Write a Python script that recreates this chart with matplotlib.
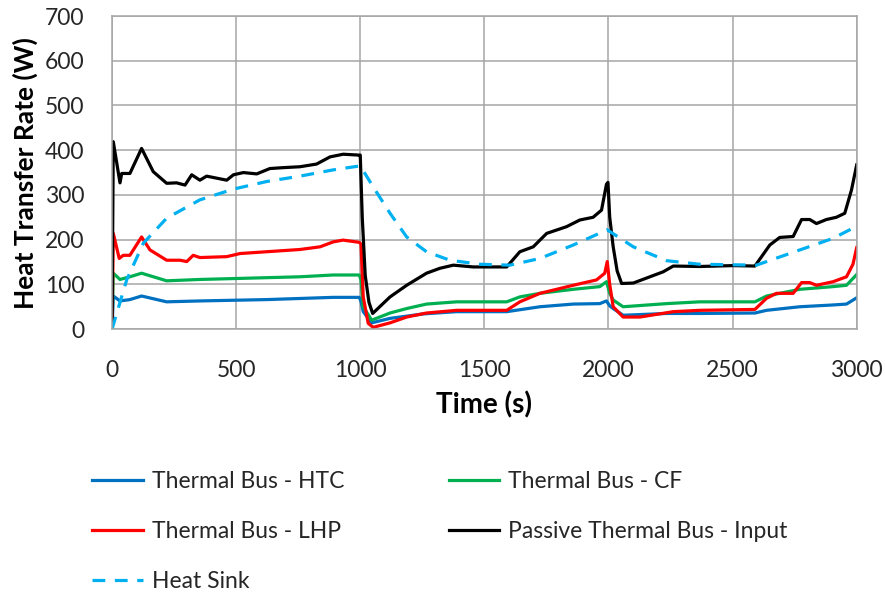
import matplotlib
matplotlib.use("Agg")
import matplotlib.pyplot as plt

plt.rcParams['font.family'] = ['Lato', 'DejaVu Sans']

# Heat transfer rate histories (W) vs time (s)
t_htc = [0, 5, 32, 72, 119, 220, 354, 623, 891, 996, 1003, 1012, 1046, 1120, 1254, 1388,
         1590, 1724, 1858, 1965, 1992, 2005, 2019, 2059, 2234, 2368, 2590, 2637, 2771, 2905,
         2959, 3000]
q_htc = [0, 74, 63, 66, 74, 61, 63, 66, 71, 71, 62, 39, 14, 24, 34, 39,
         39, 50, 56, 57, 63, 52, 46, 31, 35, 35, 36, 42, 50, 54,
         56, 70]

t_cf = [0, 5, 32, 72, 119, 220, 354, 489, 623, 757, 891, 996, 1003, 1012, 1046, 1120,
        1187, 1267, 1388, 1590, 1643, 1724, 1858, 1965, 1992, 2005, 2019, 2059, 2234, 2368,
        2590, 2637, 2690, 2771, 2905, 2959, 3000]
q_cf = [0, 125, 111, 117, 125, 108, 111, 113, 115, 117, 121, 121, 110, 50, 20, 36,
        46, 56, 61, 61, 72, 80, 89, 95, 106, 80, 65, 50, 57, 61,
        61, 74, 80, 89, 95, 98, 122]

t_lhp = [0, 5, 29, 45, 72, 119, 153, 220, 274, 301, 327, 354, 462, 516, 623, 757,
         838, 891, 931, 996, 1003, 1012, 1032, 1052, 1120, 1187, 1267, 1388, 1590, 1643,
         1724, 1858, 1952, 1985, 1995, 2005, 2019, 2059, 2127, 2261, 2368, 2590, 2637, 2677,
         2744, 2778, 2811, 2838, 2905, 2959, 2985, 3000]
q_lhp = [0, 214, 158, 165, 165, 206, 177, 154, 154, 151, 165, 160, 162, 169, 173, 178,
         184, 195, 199, 194, 190, 72, 13, 4, 14, 27, 36, 42, 42, 61,
         80, 98, 110, 125, 151, 100, 50, 27, 27, 39, 42, 44, 69, 80,
         80, 104, 104, 98, 106, 117, 145, 182]

t_in = [0, 5, 32, 39, 72, 119, 166, 220, 260, 294, 321, 354, 381, 462, 489, 529,
        583, 636, 690, 757, 824, 878, 931, 996, 1000, 1008, 1020, 1035, 1050, 1120,
        1187, 1267, 1321, 1375, 1455, 1590, 1643, 1697, 1751, 1831, 1885, 1938, 1972, 1992,
        1998, 2005, 2019, 2035, 2053, 2100, 2167, 2220, 2261, 2368, 2502, 2590, 2650, 2690,
        2744, 2778, 2811, 2838, 2878, 2918, 2952, 2979, 3000]
q_in = [0, 419, 327, 348, 348, 404, 352, 326, 327, 322, 345, 333, 342, 333, 345, 350,
        347, 359, 361, 363, 369, 385, 391, 389, 389, 250, 120, 60, 35, 72,
        98, 125, 136, 143, 139, 139, 173, 184, 214, 229, 244, 250, 266, 324,
        328, 250, 184, 130, 102, 103, 117, 128, 141, 140, 142, 141, 188, 205,
        207, 245, 245, 236, 245, 250, 259, 311, 367]

t_sink = [0, 59, 126, 220, 354, 489, 623, 757, 891, 1000, 1052, 1120, 1187, 1267, 1361,
          1482, 1603, 1724, 1858, 1995, 2100, 2234, 2368, 2596, 2771, 2905, 3000]
q_sink = [0, 110, 192, 248, 289, 313, 330, 342, 356, 365, 318, 259, 206, 173, 154,
          145, 143, 158, 188, 222, 184, 153, 145, 143, 177, 203, 230]

fig = plt.figure(figsize=(8.85, 5.93), dpi=100)
ax = fig.add_axes([0.1266, 0.445, 0.8414, 0.528])

lw = 2.3
ax.plot(t_htc, q_htc, color='#0070C0', lw=lw, label='Thermal Bus - HTC')
ax.plot(t_cf, q_cf, color='#00B050', lw=lw, label='Thermal Bus - CF')
ax.plot(t_lhp, q_lhp, color='#FF0000', lw=lw, label='Thermal Bus - LHP')
ax.plot(t_in, q_in, color='black', lw=lw, label='Passive Thermal Bus - Input')
ax.plot(t_sink, q_sink, color='#00B0F0', lw=lw, dashes=(4, 3), label='Heat Sink')

ax.set_xlim(0, 3000)
ax.set_ylim(0, 700)
ax.set_xticks(range(0, 3001, 500))
ax.set_yticks(range(0, 701, 100))
ax.grid(True, color='#a6a6a6', lw=1.1)
ax.set_axisbelow(True)
for s in ax.spines.values():
    s.set_color('#a6a6a6')
    s.set_linewidth(1.1)
ax.tick_params(length=0, labelsize=16.5, pad=20, colors='#262626')
ax.tick_params(axis='x', pad=22)

ax.set_xlabel('Time (s)', fontsize=20, fontweight='bold', labelpad=8)
ax.set_ylabel('Heat Transfer Rate (W)', fontsize=19, fontweight='bold', labelpad=5)

# legend below the plot, two columns (filled column-wise)
h, l = ax.get_legend_handles_labels()
order = [0, 2, 4, 1, 3]
fig.legend([h[i] for i in order], [l[i] for i in order], ncol=2,
           loc='upper left', bbox_to_anchor=(0.081, 0.240), frameon=False,
           fontsize=16.5, handlelength=2.2, handletextpad=0.4,
           columnspacing=4.55, labelspacing=1.25, labelcolor='#262626')

fig.savefig('out.png', dpi=100)
